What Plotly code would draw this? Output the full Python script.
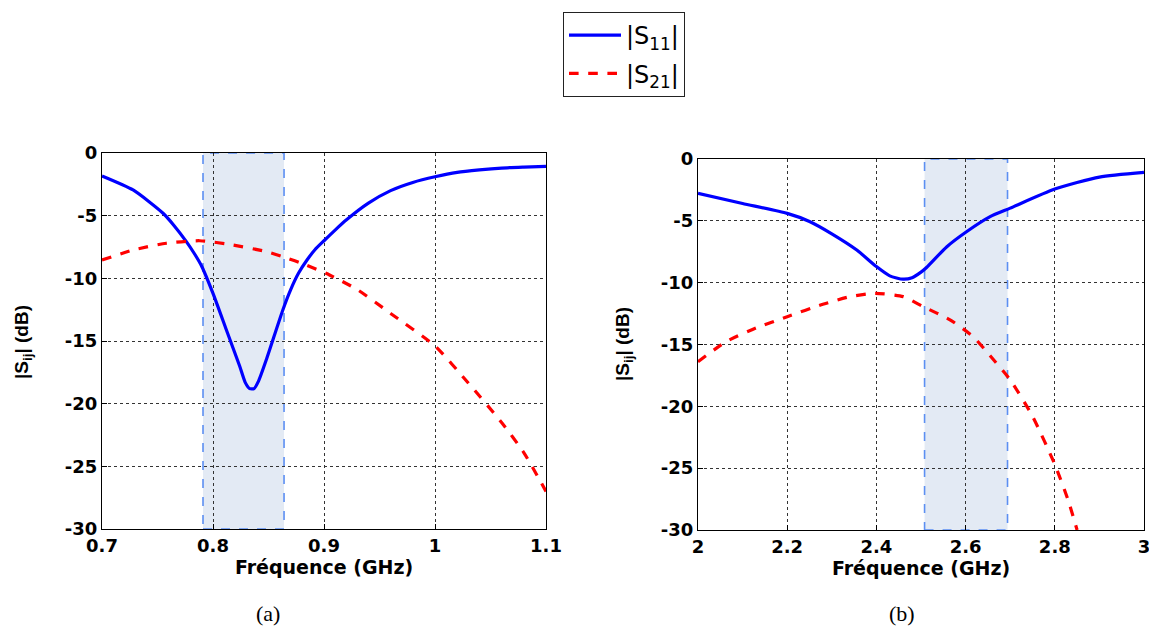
import plotly.graph_objects as go

# ---------------- data ----------------
freq_a = [0.70, 0.728, 0.755, 0.765, 0.776, 0.783, 0.790, 0.800, 0.812, 0.824, 0.829, 0.833,
          0.837, 0.841, 0.848, 0.863, 0.870, 0.877, 0.885, 0.892, 0.90, 0.91, 0.92, 0.94, 0.96,
          0.98, 1.00, 1.02, 1.04, 1.06, 1.08, 1.10]
s11_a = [-1.83, -2.95, -4.81, -5.8, -7.07, -8.0, -9.07, -11.2, -14.1, -17.0, -18.3, -18.8,
         -18.8, -18.2, -16.5, -12.5, -10.9, -9.6, -8.5, -7.7, -7.0, -6.15, -5.35, -4.0, -3.0,
         -2.35, -1.9, -1.55, -1.35, -1.2, -1.12, -1.06]

freq_a21 = [0.70, 0.728, 0.758, 0.788, 0.818, 0.848, 0.863, 0.884, 0.905, 0.93, 0.96, 1.00,
            1.03, 1.06, 1.08, 1.10]
s21_a = [-8.54, -7.74, -7.2, -7.0, -7.34, -7.87, -8.27, -8.94, -9.73, -10.9, -12.8, -15.4,
         -18.35, -21.5, -23.9, -27.0]

freq_b = [2.00, 2.10, 2.20, 2.25, 2.30, 2.356, 2.40, 2.43, 2.46, 2.48, 2.50, 2.513, 2.558,
          2.602, 2.655, 2.70, 2.80, 2.90, 3.00]
s11_b = [-2.78, -3.6, -4.4, -5.05, -6.05, -7.36, -8.7, -9.45, -9.72, -9.6, -9.15, -8.75, -7.09,
         -5.88, -4.66, -3.97, -2.43, -1.46, -1.08]

freq_b21 = [2.00, 2.064, 2.13, 2.20, 2.28, 2.341, 2.397, 2.46, 2.505, 2.565, 2.617, 2.65,
            2.70, 2.75, 2.80, 2.83, 2.85]
s21_b = [-16.39, -14.75, -13.67, -12.75, -11.75, -11.13, -10.86, -11.13, -11.94, -13.0, -14.37,
         -15.7, -17.86, -20.8, -24.7, -27.6, -30.0]

band_a = [0.791, 0.864]
band_b = [2.508, 2.694]

x_ticks_a = [0.7, 0.8, 0.9, 1.0, 1.1]
x_tick_text_a = ["0.7", "0.8", "0.9", "1", "1.1"]
x_ticks_b = [2.0, 2.2, 2.4, 2.6, 2.8, 3.0]
x_tick_text_b = ["2", "2.2", "2.4", "2.6", "2.8", "3"]
y_ticks = [0, -5, -10, -15, -20, -25, -30]
y_tick_text = ["0", "-5", "-10", "-15", "-20", "-25", "-30"]

legend_names = ["|S<sub>11</sub>|", "|S<sub>21</sub>|"]
x_title = "Fréquence (GHz)"
y_title = "|S<sub>ij</sub>| (dB)"
captions = ["(a)", "(b)"]

# ---------------- figure ----------------
W, H = 1149, 633
BLUE = "#0000ff"
RED = "#ff0000"
FONT = "DejaVu Sans, Arial, sans-serif"
FONT_Y = "Liberation Sans, Arial, sans-serif"

fig = go.Figure()

fig.add_trace(go.Scatter(x=freq_a, y=s11_a, mode="lines", name=legend_names[0], legendgroup="g1",
                         line=dict(color=BLUE, width=3.2, shape="spline", smoothing=0.6),
                         xaxis="x", yaxis="y"))
fig.add_trace(go.Scatter(x=freq_a21, y=s21_a, mode="lines", name=legend_names[1], legendgroup="g2",
                         line=dict(color=RED, width=3.2, dash="dash", shape="spline", smoothing=0.6),
                         xaxis="x", yaxis="y"))
fig.add_trace(go.Scatter(x=freq_b, y=s11_b, mode="lines", showlegend=False,
                         line=dict(color=BLUE, width=3.2, shape="spline", smoothing=0.6),
                         xaxis="x2", yaxis="y2"))
fig.add_trace(go.Scatter(x=freq_b21, y=s21_b, mode="lines", showlegend=False,
                         line=dict(color=RED, width=3.2, dash="dash", shape="spline", smoothing=0.6),
                         xaxis="x2", yaxis="y2"))

# shaded bands
for band, xr, yr in [(band_a, "x", "y"), (band_b, "x2", "y2")]:
    fig.add_shape(type="rect", xref=xr, yref=yr, x0=band[0], x1=band[1], y0=-30, y1=0,
                  fillcolor="#e3eaf4", line=dict(color="#5c8ff2", width=1.6, dash="dash"),
                  layer="below")

tickfont = dict(family=FONT, size=18, color="black", weight="bold")
titlefont = dict(family=FONT, size=19, color="black", weight="bold")

def bold(lst):
    return ["<b>%s</b>" % t for t in lst]

def xaxis(dom, rng, tv, tt, anchor):
    return dict(domain=dom, range=rng, tickvals=tv, ticktext=bold(tt), anchor=anchor,
                showline=True, linecolor="black", linewidth=1.2, mirror=True,
                ticks="inside", ticklen=5, tickcolor="black",
                showgrid=True, gridcolor="#333333", griddash="dot", gridwidth=1,
                zeroline=False, tickfont=tickfont, automargin=False,
                ticklabeloverflow="allow",
                title=dict(text="<b>%s</b>" % x_title, font=titlefont, standoff=0))

def yaxis(dom, anchor):
    return dict(domain=dom, range=[-30, 0], tickvals=y_ticks, ticktext=bold(y_tick_text),
                anchor=anchor,
                showline=True, linecolor="black", linewidth=1.2, mirror=True,
                ticks="inside", ticklen=5, tickcolor="black",
                showgrid=True, gridcolor="#333333", griddash="dot", gridwidth=1,
                zeroline=False, tickfont=tickfont, automargin=False,
                ticklabeloverflow="allow")

fig.update_layout(
    width=W, height=H,
    margin=dict(l=0, r=0, t=0, b=0, autoexpand=False),
    paper_bgcolor="white", plot_bgcolor="white",
    xaxis=xaxis([102 / W, 546 / W], [0.7, 1.1], x_ticks_a, x_tick_text_a, "y"),
    yaxis=yaxis([1 - 529 / H, 1 - 153 / H], "x"),
    xaxis2=xaxis([698 / W, 1144 / W], [2.0, 3.0], x_ticks_b, x_tick_text_b, "y2"),
    yaxis2=yaxis([1 - 530 / H, 1 - 159 / H], "x2"),
    legend=dict(xref="container", yref="container", x=563 / W, y=1 - 12 / H,
                xanchor="left", yanchor="top",
                bordercolor="#222222", borderwidth=1, bgcolor="white",
                font=dict(family=FONT, size=24, color="black"),
                tracegroupgap=4, itemwidth=52),
    showlegend=True,
)

# y-axis titles (rotated)
for cx, cy in [(23, 342), (624, 344)]:
    fig.add_annotation(text="<b>%s</b>" % y_title, xref="paper", yref="paper",
                       x=cx / W, y=1 - cy / H, textangle=-90, showarrow=False,
                       xanchor="center", yanchor="middle",
                       font=dict(family=FONT_Y, size=19, color="black"))

for txt, cx in zip(captions, [268, 902]):
    fig.add_annotation(text=txt, xref="paper", yref="paper", x=cx / W, y=1 - 613 / H,
                       showarrow=False, xanchor="center", yanchor="middle",
                       font=dict(family="Liberation Serif, Times New Roman, serif", size=22, color="black"))

fig.write_html("out.html", config={"displayModeBar": False},
               post_script="document.body.style.margin='0';document.body.style.overflow='hidden';")
